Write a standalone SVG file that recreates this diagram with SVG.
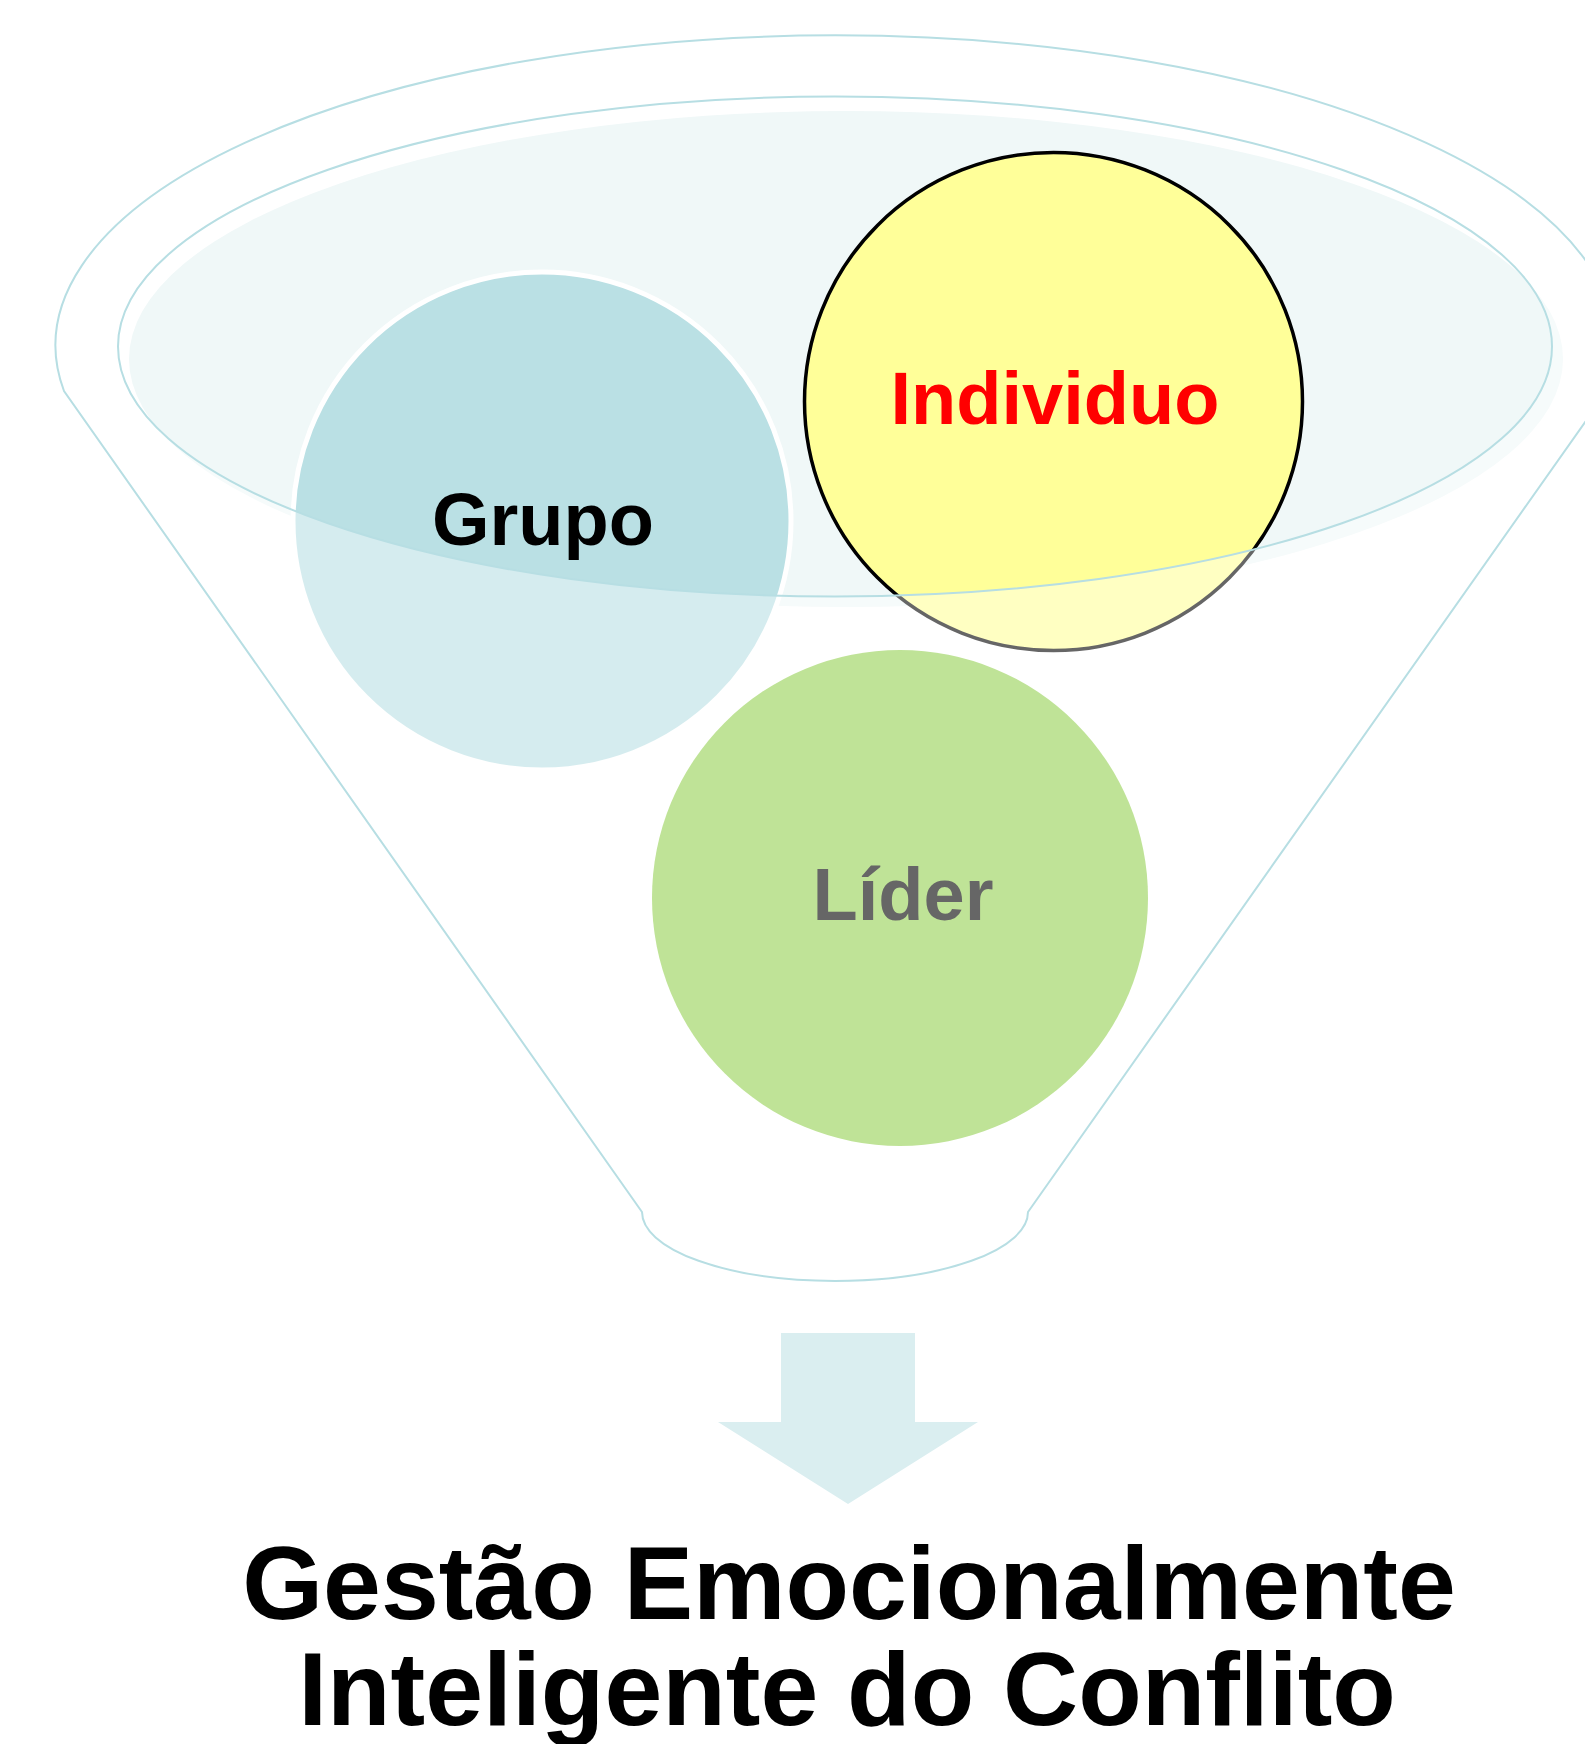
<svg xmlns="http://www.w3.org/2000/svg" width="1585" height="1744" viewBox="0 0 1585 1744">
<style>
.lbl{font-family:"Liberation Sans",Arial,sans-serif;font-weight:bold;text-anchor:middle}
.edge{fill:none;stroke:#b7dee3;stroke-width:2}
</style>
<rect width="1585" height="1744" fill="#ffffff"/>
<g id="funnel-top">
<ellipse cx="846" cy="359" rx="717" ry="248" fill="#f0f8f8"/>
</g>
<g id="node-grupo">
<circle cx="542" cy="521" r="249" fill="#bae0e4" stroke="#ffffff" stroke-width="5"/>
</g>
<g id="node-individuo">
<circle cx="1053.5" cy="401.5" r="249" fill="#ffff99" stroke="#000000" stroke-width="3.5"/>
</g>
<g id="funnel-body">
<path fill="#ffffff" fill-opacity="0.4" fill-rule="evenodd" d="M64 391 A780 310 0 1 1 1607 391 L1028 1212 A193 69 0 0 1 642 1212 Z M118 346.5 A717 250 0 1 0 1552 346.5 A717 250 0 1 0 118 346.5 Z"/>
<path class="edge" d="M64 391 A780 310 0 1 1 1607 391 L1028 1212 A193 69 0 0 1 642 1212 Z"/>
<ellipse class="edge" cx="835" cy="346.5" rx="717" ry="250"/>
</g>
<g id="node-lider">
<circle cx="900" cy="898" r="248" fill="#bfe397"/>
</g>
<g id="labels">
<text class="lbl" x="543" y="545" font-size="74" fill="#000000">Grupo</text>
<text class="lbl" x="1055" y="424" font-size="74" fill="#ff0000">Individuo</text>
<text class="lbl" x="903" y="920" font-size="74" fill="#666666">Líder</text>
</g>
<g id="connectors">
<path d="M781 1333 H915 V1422 H978 L848 1504 L718 1422 H781 Z" fill="#daeef0"/>
</g>
<g id="node-result">
<text class="lbl" x="849" y="1619" font-size="104" fill="#000000">Gestão Emocionalmente</text>
<text class="lbl" x="847" y="1725" font-size="104" fill="#000000">Inteligente do Conflito</text>
</g>
</svg>
